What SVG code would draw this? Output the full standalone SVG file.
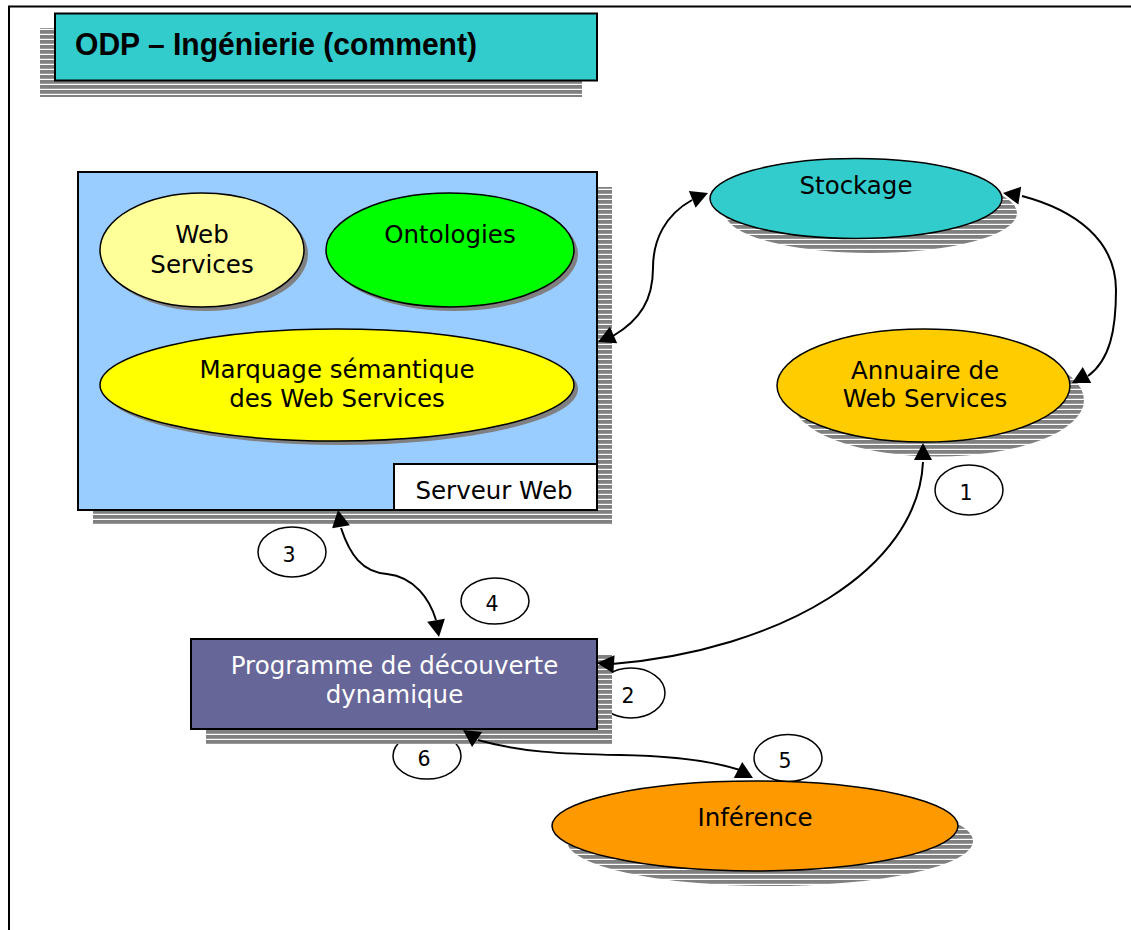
<svg xmlns="http://www.w3.org/2000/svg" xmlns:xlink="http://www.w3.org/1999/xlink" width="1131" height="930" viewBox="0 0 1131 930">
  <style>
    .lbl { font-family: "DejaVu Sans", Verdana, sans-serif; font-size: 24.5px; fill: #000; text-anchor: middle; }
    .num { font-family: "DejaVu Sans", Verdana, sans-serif; font-size: 20.5px; fill: #000; text-anchor: middle; }
    .edge { fill: none; stroke: #000; stroke-width: 2; }
    .shape { stroke: #000; stroke-width: 2; }
    .inner { stroke: #000; stroke-width: 1.5; }
    .solidshadow { fill: #808080; }
    .stripe { fill: url(#stripes); }
    .badge { fill: #fff; stroke: #000; stroke-width: 1.5; }
  </style>
  <defs>
    <!-- hatched drop shadow: grey bands split by thin white lines -->
    <pattern id="stripes" width="8" height="5" patternUnits="userSpaceOnUse">
      <rect width="8" height="5" fill="#fff"/>
      <rect width="8" height="3.8" fill="#808080"/>
    </pattern>
    <!-- arrowhead, tip at origin, pointing along +x -->
    <path id="ah" d="M0,0 L-17,-9 L-17,9 Z" fill="#000"/>
  </defs>

  <rect width="1131" height="930" fill="#fff"/>
  <!-- page frame -->
  <rect x="9" y="6.5" width="1200" height="1000" fill="none" stroke="#000" stroke-width="2"/>

  <!-- title -->
  <g id="title">
    <rect class="stripe" x="40" y="28" width="542" height="69"/>
    <rect x="55" y="13.5" width="542" height="67" fill="#33CCCC" class="shape"/>
    <text x="75" y="55" font-family="'Liberation Sans', Arial, sans-serif" font-weight="bold" font-size="31" textLength="402" lengthAdjust="spacingAndGlyphs">ODP – Ingénierie (comment)</text>
  </g>

  <!-- numbered step badges (under the node shadows) -->
  <g id="steps">
    <g id="step1"><ellipse class="badge" cx="969" cy="490" rx="34" ry="25"/><text class="num" x="966" y="500">1</text></g>
    <g id="step2"><ellipse class="badge" cx="631" cy="693" rx="34" ry="25"/><text class="num" x="628" y="703">2</text></g>
    <g id="step3"><ellipse class="badge" cx="292" cy="552" rx="34" ry="25"/><text class="num" x="289" y="562">3</text></g>
    <g id="step4"><ellipse class="badge" cx="495" cy="601" rx="34" ry="23"/><text class="num" x="492" y="611">4</text></g>
    <g id="step5"><ellipse class="badge" cx="788" cy="758" rx="34" ry="23.5"/><text class="num" x="785" y="768">5</text></g>
    <g id="step6"><ellipse class="badge" cx="427" cy="756" rx="34" ry="23"/><text class="num" x="424" y="766">6</text></g>
  </g>

  <!-- web server container -->
  <g id="serveur-web">
    <rect class="stripe" x="93" y="187" width="519" height="338"/>
    <rect x="78" y="172" width="519" height="338" fill="#99CCFF" class="shape"/>
    <rect x="394" y="464" width="203" height="46" fill="#fff" class="shape"/>
    <text class="lbl" x="494" y="499">Serveur Web</text>
  </g>

  <g id="web-services">
    <ellipse class="solidshadow" cx="206" cy="254" rx="102" ry="57"/>
    <ellipse class="inner" cx="202" cy="250" rx="102" ry="57" fill="#FFFF99"/>
    <text class="lbl" x="202" y="243">Web</text>
    <text class="lbl" x="202" y="273">Services</text>
  </g>

  <g id="ontologies">
    <ellipse class="solidshadow" cx="454" cy="254" rx="124" ry="57"/>
    <ellipse class="inner" cx="450" cy="250" rx="124" ry="57" fill="#00FF00"/>
    <text class="lbl" x="450" y="243">Ontologies</text>
  </g>

  <g id="marquage">
    <ellipse class="solidshadow" cx="341" cy="389" rx="237" ry="56"/>
    <ellipse class="inner" cx="337" cy="385" rx="237" ry="56" fill="#FFFF00"/>
    <text class="lbl" x="337" y="378">Marquage sémantique</text>
    <text class="lbl" x="337" y="407">des Web Services</text>
  </g>

  <g id="stockage">
    <ellipse class="stripe" cx="871" cy="213" rx="146" ry="40"/>
    <ellipse class="inner" cx="856" cy="198.5" rx="146" ry="40" fill="#33CCCC"/>
    <text class="lbl" x="856" y="194">Stockage</text>
  </g>

  <g id="annuaire">
    <ellipse class="stripe" cx="938" cy="400" rx="146" ry="56.5"/>
    <ellipse class="inner" cx="923.5" cy="385.5" rx="146.5" ry="56.5" fill="#FFCC00"/>
    <text class="lbl" x="925" y="379">Annuaire de</text>
    <text class="lbl" x="925" y="407">Web Services</text>
  </g>

  <g id="programme">
    <rect class="stripe" x="206" y="655" width="406" height="89"/>
    <rect x="191" y="639" width="406" height="90" fill="#666699" class="shape"/>
    <text class="lbl" x="394.5" y="674" style="fill:#fff">Programme de découverte</text>
    <text class="lbl" x="394.5" y="703" style="fill:#fff">dynamique</text>
  </g>

  <g id="inference">
    <ellipse class="stripe" cx="770" cy="841" rx="203" ry="45"/>
    <ellipse class="inner" cx="755" cy="826" rx="203" ry="45" fill="#FF9900"/>
    <text class="lbl" x="755" y="826">Inférence</text>
  </g>

  <!-- connectors -->
  <g id="connectors">
    <path class="edge" d="M692,200 C665,215 653,240 653,268 C653,300 640,320 613,336"/>
    <use xlink:href="#ah" transform="translate(708,193) rotate(-22)"/>
    <use xlink:href="#ah" transform="translate(598,342) rotate(156)"/>

    <path class="edge" d="M1022,196 C1075,210 1116,240 1116,290 C1116,330 1110,360 1088,376"/>
    <use xlink:href="#ah" transform="translate(1003,193) rotate(189)"/>
    <use xlink:href="#ah" transform="translate(1072,383) rotate(152)"/>

    <path class="edge" d="M923,462 C918,570 780,650 612,664"/>
    <use xlink:href="#ah" transform="translate(923,443) rotate(-90)"/>
    <use xlink:href="#ah" transform="translate(597,663) rotate(184)"/>

    <path class="edge" d="M341,528 C350,555 362,572 387,574 C415,577 430,600 436,620"/>
    <use xlink:href="#ah" transform="translate(338,510) rotate(-100)"/>
    <use xlink:href="#ah" transform="translate(439,637) rotate(80)"/>

    <path class="edge" d="M478,740 C520,752 560,754 620,755 C680,756 715,762 740,770"/>
    <use xlink:href="#ah" transform="translate(463,730) rotate(214)"/>
    <use xlink:href="#ah" transform="translate(753,778) rotate(28)"/>
  </g>
</svg>
